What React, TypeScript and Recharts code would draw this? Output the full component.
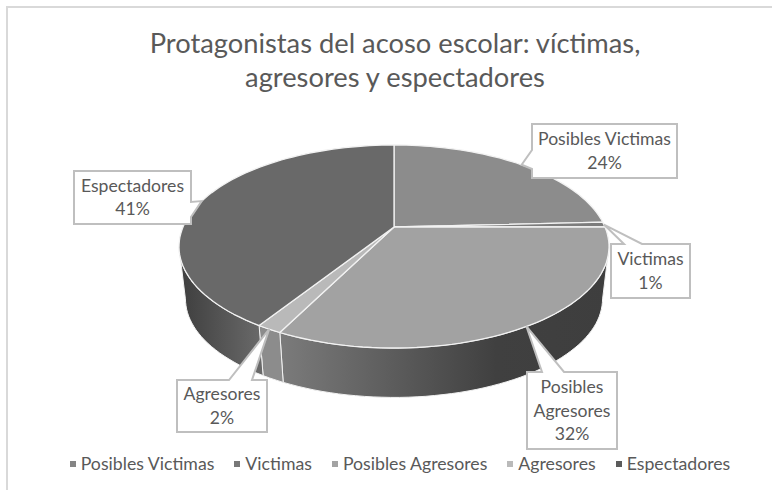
import { Cell, Legend, Pie, PieChart } from 'recharts';

const categories = ['Posibles Victimas', 'Victimas', 'Posibles Agresores', 'Agresores', 'Espectadores'];
const shares = [24.2, 0.8, 32.4, 1.6, 41];
const titleLines = ['Protagonistas del acoso escolar: víctimas,', 'agresores y espectadores'];

const topColors = ['#8c8c8c', '#7c7c7c', '#a2a2a2', '#b9b9b9', '#696969'];
const legendColors = ['#858585', '#787878', '#a3a3a3', '#bababa', '#5b5b5b'];

const rows = categories.map((name, i) => ({ name, value: shares[i] }));

const FONT = 'Lato, sans-serif';
const TEXT = '#595959';

// the pie is a tilted disc: circle points are pushed through a small perspective
const TILT = 0.192;
const SQUASH = 0.4635;
const DEPTH = 53;
const BASE_SCALE = 0.97;
const TANGENT = (Math.asin(TILT) * 180) / Math.PI;

type Pt = [number, number];

function rim(cx: number, cy: number, r: number, deg: number, base = false): Pt {
  const a = (deg * Math.PI) / 180;
  const w = 1 + TILT * Math.sin(a);
  const s = base ? BASE_SCALE : 1;
  return [cx + (s * r * Math.cos(a)) / w, cy + (base ? DEPTH : 0) - (s * r * SQUASH * Math.sin(a)) / w];
}

function arc(cx: number, cy: number, r: number, from: number, to: number, base = false): Pt[] {
  const steps = Math.max(2, Math.ceil(Math.abs(from - to) / 2));
  const pts: Pt[] = [];
  for (let i = 0; i <= steps; i++) pts.push(rim(cx, cy, r, from + ((to - from) * i) / steps, base));
  return pts;
}

const toPath = (pts: Pt[]) => `M${pts.map((p) => `${p[0].toFixed(1)},${p[1].toFixed(1)}`).join('L')}Z`;

function PieSlice(props: any) {
  const { cx, cy, outerRadius: r, startAngle, endAngle, fill, name } = props;
  const front0 = Math.min(startAngle, -TANGENT);
  const front1 = Math.max(endAngle, -180 + TANGENT);
  const top = [[cx, cy] as Pt, ...arc(cx, cy, r, startAngle, endAngle)];
  const hasWall = front0 > front1;
  return (
    <g>
      {hasWall && (
        <path
          d={toPath([...arc(cx, cy, r, front0, front1), ...arc(cx, cy, r, front1, front0, true)])}
          fill={`url(#wall-${categories.indexOf(name)})`}
          stroke="#f2f2f2"
          strokeWidth={1}
        />
      )}
      <path d={toPath(top)} fill={fill} stroke="#f2f2f2" strokeWidth={1.3} strokeLinejoin="round" />
    </g>
  );
}

// callout boxes, with the edge the pointer leaves from
const boxes: Record<string, { x: number; y: number; w: number; h: number; base: Pt; side: 'top' | 'right' | 'left' }> = {
  'Posibles Victimas': { x: 532, y: 124, w: 145, h: 54, base: [150, 169], side: 'left' },
  Victimas: { x: 611, y: 244, w: 79, h: 54, base: [624, 642], side: 'top' },
  'Posibles Agresores': { x: 527, y: 372, w: 90, h: 77, base: [542, 564], side: 'top' },
  Agresores: { x: 177, y: 380, w: 90, h: 52, base: [229, 252], side: 'top' },
  Espectadores: { x: 74, y: 171, w: 117, h: 53, base: [202, 217], side: 'right' },
};

function Callout(props: any) {
  const { cx, cy, outerRadius, midAngle, name, percent } = props;
  const b = boxes[name];
  const tip = rim(cx, cy, outerRadius, midAngle);
  let d = '';
  const right = b.x + b.w;
  const bottom = b.y + b.h;
  if (b.side === 'top') {
    d = `M${b.x},${b.y}L${b.base[0]},${b.y}L${tip[0]},${tip[1]}L${b.base[1]},${b.y}L${right},${b.y}L${right},${bottom}L${b.x},${bottom}Z`;
  } else if (b.side === 'right') {
    d = `M${b.x},${b.y}L${right},${b.y}L${right},${b.base[0]}L${tip[0]},${tip[1]}L${right},${b.base[1]}L${right},${bottom}L${b.x},${bottom}Z`;
  } else {
    d = `M${b.x},${b.y}L${right},${b.y}L${right},${bottom}L${b.x},${bottom}L${b.x},${b.base[1]}L${tip[0]},${tip[1]}L${b.x},${b.base[0]}Z`;
  }
  const words = name === 'Posibles Agresores' ? ['Posibles', 'Agresores'] : [name];
  const lines = [...words, `${Math.round(percent * 100)}%`];
  const mid = b.y + b.h / 2;
  const lead = 23.3;
  return (
    <g>
      <path d={d} fill="#ffffff" stroke="#bfbfbf" strokeWidth={2} />
      {lines.map((t, i) => (
        <text
          key={t}
          x={b.x + b.w / 2}
          y={mid + (i - (lines.length - 1) / 2) * lead + 6}
          textAnchor="middle"
          fontFamily={FONT}
          fontSize={17.6}
          fill={TEXT}
        >
          {t}
        </text>
      ))}
    </g>
  );
}

function LegendRow({ payload }: any) {
  return (
    <div style={{ display: 'flex', justifyContent: 'center', columnGap: 20, fontFamily: FONT, fontSize: 17.7, color: TEXT }}>
      {(payload ?? []).map((item: any) => (
        <span key={item.value} style={{ display: 'inline-flex', alignItems: 'center', columnGap: 5 }}>
          <span style={{ width: 6, height: 6, background: legendColors[categories.indexOf(item.value)], display: 'inline-block' }} />
          {item.value}
        </span>
      ))}
    </div>
  );
}

export default function App() {
  return (
    <div style={{ position: 'absolute', left: 0, top: 0, width: 772, height: 490, overflow: 'hidden', background: '#fff' }}>
      <div
        style={{
          position: 'absolute',
          left: 6,
          top: 6,
          width: 800,
          height: 520,
          border: '2px solid #d9d9d9',
          boxSizing: 'border-box',
        }}
      />
      <PieChart width={772} height={490} margin={{ top: 0, right: 0, bottom: 0, left: 0 }}>
        <defs>
          <linearGradient id="wall-4" gradientUnits="userSpaceOnUse" x1="180" y1="0" x2="262" y2="0">
            <stop offset="0%" stopColor="#3e3e3e" />
            <stop offset="100%" stopColor="#6a6a6a" />
          </linearGradient>
          <linearGradient id="wall-3" gradientUnits="userSpaceOnUse" x1="260" y1="0" x2="286" y2="0">
            <stop offset="0%" stopColor="#8c8c8c" />
            <stop offset="100%" stopColor="#8c8c8c" />
          </linearGradient>
          <linearGradient id="wall-2" gradientUnits="userSpaceOnUse" x1="284" y1="0" x2="610" y2="0">
            <stop offset="0%" stopColor="#7a7a7a" />
            <stop offset="65%" stopColor="#404040" />
            <stop offset="100%" stopColor="#3e3e3e" />
          </linearGradient>
        </defs>
        {titleLines.map((line, i) => (
          <text key={line} x={395} y={53 + i * 34} textAnchor="middle" fontFamily={FONT} fontSize={27.3} fill={TEXT}>
            {line}
          </text>
        ))}
        <Pie
          data={rows}
          dataKey="value"
          nameKey="name"
          cx={394}
          cy={227}
          outerRadius={211}
          startAngle={90}
          endAngle={-270}
          stroke="none"
          shape={PieSlice}
          label={Callout}
          labelLine={false}
          isAnimationActive={false}
        >
          {rows.map((row, i) => (
            <Cell key={row.name} fill={topColors[i]} />
          ))}
        </Pie>
        <Legend
          content={LegendRow}
          itemSorter={null}
          verticalAlign="bottom"
          wrapperStyle={{ position: 'absolute', left: 0, width: 800, bottom: 16 }}
        />
      </PieChart>
    </div>
  );
}
